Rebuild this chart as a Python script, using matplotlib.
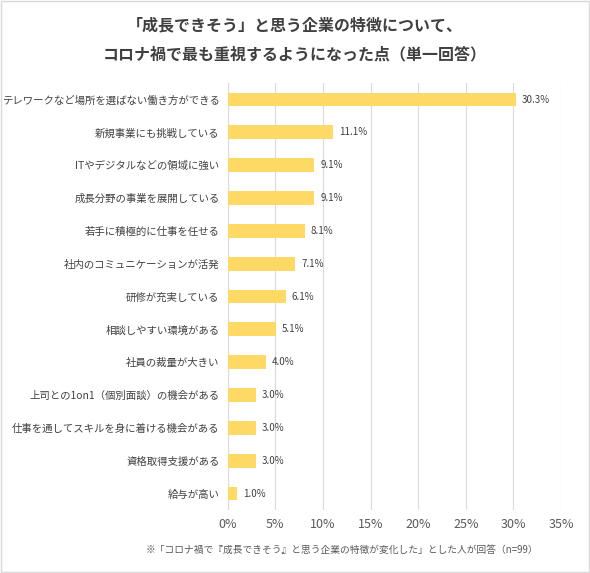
import matplotlib
matplotlib.use("Agg")
import matplotlib.pyplot as plt

plt.rcParams['font.family'] = ['Noto Sans CJK JP', 'DejaVu Sans']

categories = ["テレワークなど場所を選ばない働き方ができる", "新規事業にも挑戦している", "ITやデジタルなどの領域に強い",
              "成長分野の事業を展開している", "若手に積極的に仕事を任せる", "社内のコミュニケーションが活発",
              "研修が充実している", "相談しやすい環境がある", "社員の裁量が大きい",
              "上司との1on1（個別面談）の機会がある", "仕事を通してスキルを身に着ける機会がある",
              "資格取得支援がある", "給与が高い"]
values = [30.3, 11.1, 9.1, 9.1, 8.1, 7.1, 6.1, 5.1, 4.0, 3.0, 3.0, 3.0, 1.0]
xticks = [0, 5, 10, 15, 20, 25, 30, 35]

fig = plt.figure(figsize=(5.90, 5.73), dpi=100)
fig.patches.append(plt.Rectangle((0.002, 0.002), 0.996, 0.996, transform=fig.transFigure,
                                 fill=False, edgecolor='#d9d9d9', lw=1))
ax = fig.add_axes([0.386, 0.11, 0.565, 0.745])
y = list(range(len(categories)))
ax.barh(y, values, height=0.42, color='#ffd966', zorder=3)
for yi, v in zip(y, values):
    ax.text(v + 0.6, yi, f"{v:.1f}%", va='center', ha='left', fontsize=7, color='#404040')
ax.set_yticks(y)
ax.set_yticklabels(categories, fontsize=7.5, color='#404040')
ax.invert_yaxis()
ax.set_ylim(len(categories) - 0.5, -0.5)
ax.set_xlim(0, 35)
ax.set_xticks(xticks)
ax.set_xticklabels([f"{t}%" for t in xticks], fontsize=9, color='#595959')
ax.grid(axis='x', color='#d9d9d9', lw=0.8, zorder=0)
for s in ax.spines.values():
    s.set_visible(False)
ax.tick_params(length=0, pad=6)
ax.axvline(0, color='#d9d9d9', lw=0.8, zorder=2)

fig.text(0.5, 0.955, "「成長できそう」と思う企業の特徴について、", ha='center', va='center',
         fontsize=11.5, fontweight='bold', color='#404040')
fig.text(0.5, 0.905, "コロナ禍で最も重視するようになった点（単一回答）", ha='center', va='center',
         fontsize=11.5, fontweight='bold', color='#404040')
fig.text(0.58, 0.04, "※「コロナ禍で『成長できそう』と思う企業の特徴が変化した」とした人が回答（n=99）",
         ha='center', va='center', fontsize=7, color='#595959')
fig.savefig("out.png", dpi=100)
